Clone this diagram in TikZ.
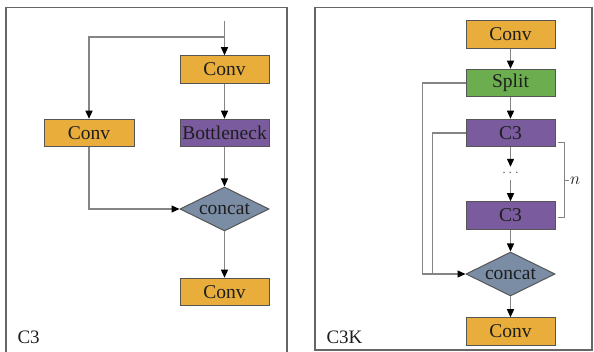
\documentclass[tikz,border=0pt]{standalone}
\usepackage{fontspec}
\setmainfont{Liberation Serif}
\newfontfamily\diagfont{Liberation Serif}
\usetikzlibrary{shapes.geometric,arrows.meta}
\definecolor{convfill}{HTML}{E8AD3A}
\definecolor{blockfill}{HTML}{7A5C9E}
\definecolor{splitfill}{HTML}{6CAE4F}
\definecolor{catfill}{HTML}{7A8DA4}
\definecolor{edgegray}{HTML}{555555}
\definecolor{linegray}{HTML}{858585}
\definecolor{framegray}{HTML}{666666}
\definecolor{txt}{HTML}{1E1E1E}
\begin{document}
\begin{tikzpicture}[x=1pt,y=-1pt,
  every node/.style={font=\diagfont\fontsize{19.5}{22}\selectfont, text=txt},
  blk/.style={draw=edgegray, line width=1pt, minimum width=89pt, minimum height=27.5pt, inner sep=0pt},
  convbox/.style={blk, fill=convfill},
  purplebox/.style={blk, fill=blockfill},
  splitbox/.style={blk, fill=splitfill},
  catnode/.style={diamond, draw=edgegray, line width=1pt, fill=catfill, aspect=2,
    minimum width=89pt, minimum height=44pt, inner sep=0pt},
  link/.style={draw=linegray, line width=1.2pt},
  arr/.style={link, -{Triangle[width=7pt,length=8pt,fill=black,color=black]}},
  panel/.style={draw=framegray, line width=1.1pt}
]
\useasboundingbox (0,0) rectangle (594,352);

% panel frames
\draw[panel] (6,7.5) rectangle (287,354);
\draw[panel] (315,7.5) rectangle (592,350);

% ---- C3 block ----
\coordinate (in) at (224.5,21);
\coordinate (fork) at (224.5,37);
\node[convbox] (c1) at (224.5,69.5) {Conv};
\node[purplebox] (bn) at (224.5,133) {Bottleneck};
\node[convbox, minimum width=90pt] (lc) at (89,133) {Conv};
\node[catnode] (cat1) at (224.5,209) {concat};
\node[convbox] (c2) at (224.5,292) {Conv};

\draw[arr] (in) -- (c1.north);
\draw[arr] (fork) -| (lc.north);
\draw[arr] (c1) -- (bn);
\draw[arr] (bn) -- (cat1.north);
\draw[arr] (lc.south) |- (cat1.west);
\draw[arr] (cat1.south) -- (c2);

\node[anchor=west, font=\diagfont\fontsize{19}{20}\selectfont] (lab1) at (14,337) {C3};

% ---- C3K block ----
\node[convbox] (r0) at (510.5,34.5) {Conv};
\node[splitbox] (sp) at (510.5,83) {Split};
\node[purplebox] (r1) at (510.5,133) {C3};
\node[inner sep=0pt, minimum height=13pt, font=\fontsize{14}{14}\selectfont, text=linegray!70!black] (dots) at (510.5,173.5) {$\cdots$};
\node[purplebox] (r2) at (510.5,215.5) {C3};
\node[catnode] (cat2) at (510.5,274) {concat};
\node[convbox] (r3) at (510.5,331.5) {Conv};

\coordinate (sl) at (422.7,83);
\coordinate (cl) at (432.7,133);

\draw[arr] (r0) -- (sp);
\draw[arr] (sp) -- (r1);
\draw[arr] (r1) -- (dots);
\draw[arr] (dots) -- (r2);
\draw[arr] (r2) -- (cat2.north);
\draw[arr] (cat2.south) -- (r3);
\draw[arr] (sp.west) -- (sl) |- (cat2.west);
\draw[link] (r1.west) -- (cl) -- (cl |- cat2.west);

% repeat bracket
\coordinate (bt) at (558,143);
\coordinate (bb) at (558,218);
\draw[link, line width=1pt] (bt) -- ++(6,0) |- (bb);
\draw[link, line width=1pt] (564,180.5) -- (569,180.5);
\node[anchor=west, inner sep=0pt, font=\fontsize{19}{20}\selectfont] (nlab) at (570,181) {$n$};

\node[anchor=west, font=\diagfont\fontsize{19}{20}\selectfont] (lab2) at (323,337) {C3K};
\end{tikzpicture}
\end{document}
